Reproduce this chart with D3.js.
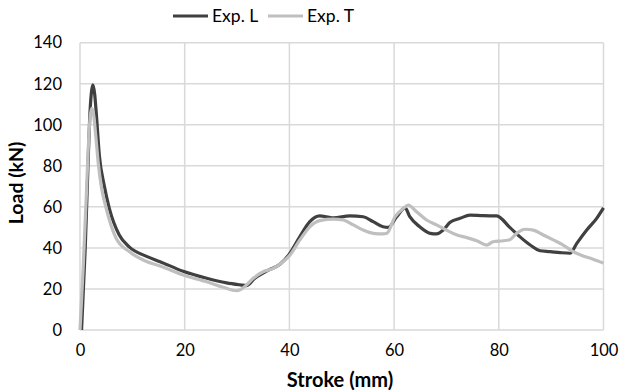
<!DOCTYPE html>
<html><head><meta charset="utf-8">
<script src="https://cdn.jsdelivr.net/npm/d3@7"></script>
<style>body{margin:0;background:#fff}svg{display:block}text{font-family:Lato,"Open Sans",sans-serif}</style>
</head><body><svg id="c" width="619" height="392"></svg>
<script>
const seriesNames = ["Exp. L", "Exp. T"];
const xTicks = [0, 20, 40, 60, 80, 100];
const yTicks = [0, 20, 40, 60, 80, 100, 120, 140];
const expL = [[0.3,0],[1.0,40],[1.5,78],[1.85,103],[2.15,115],[2.45,119.4],[2.8,115],[3.1,106],[3.7,85],[4.6,70.7],[5.6,59.3],[7.5,46.3],[9.4,40.5],[12.6,36],[15.3,33.3],[19.7,28.6],[24.2,25.2],[28,23],[30.6,22],[31.8,21.6],[33.4,25.2],[36,29.2],[38.2,32],[40.1,37.4],[42,45.5],[43.9,52.8],[45.8,55.6],[47.1,55.2],[48.4,54.6],[51.6,55.6],[54.1,55.2],[56,52.8],[57.9,50.3],[58.9,50],[60.5,55.2],[62.1,59.5],[63,55.2],[64.9,50.3],[66.9,47.1],[68.1,46.8],[69.4,48.7],[70.7,52.5],[72.6,54.4],[74.5,56],[77,55.7],[79.6,55.6],[82.1,50],[84,45.5],[86,41.4],[87.9,38.6],[89.8,38.2],[91.7,37.7],[93.6,37.4],[94.9,42.2],[96.8,48.7],[98.7,54.4],[100,59.5]];
const expT = [[0,0],[0.6,30],[1.2,65],[1.6,90],[1.95,104],[2.25,108],[2.6,105],[3.0,95],[3.5,81],[4.1,69.5],[5.0,59.3],[6.9,44.7],[9.4,38.2],[12.6,33.5],[15.3,31.2],[19.7,26.8],[24.2,23.5],[27.4,20.8],[29.9,19.2],[30.6,19.6],[31.8,21.9],[33.1,25.2],[35,28.4],[36.9,30],[38.8,33.3],[40.1,36.5],[42,43.9],[43.9,50.3],[45.8,53.3],[48.4,54],[50.3,53.6],[52.2,51.2],[54.1,48.7],[56,47.1],[57.9,46.8],[58.6,47.1],[60.2,55.2],[61.8,59.3],[62.7,60.9],[64.3,57.6],[66.2,53.6],[68.1,51.2],[70,48.7],[72,46.3],[73.9,45],[75.8,43.5],[77.7,41.4],[78.9,43],[80.9,43.5],[82.1,44],[83.4,47.1],[85,49.1],[86.6,48.7],[88.5,46.3],[90.4,43.9],[92.3,41.4],[94.2,38.2],[96.1,36.1],[98,34.5],[100,32.6]];
const colors = ["#404040", "#bfbfbf"];

const svg = d3.select("#c");
const m = {l:80, r:603.5, t:42.7, b:330};
const x = d3.scaleLinear().domain([0,100]).range([m.l, m.r]);
const y = d3.scaleLinear().domain([0,140]).range([m.b, m.t]);

svg.append("g").selectAll("line").data(yTicks).join("line")
  .attr("x1", m.l).attr("x2", m.r).attr("y1", d=>y(d)).attr("y2", d=>y(d))
  .attr("stroke", "#d9d9d9").attr("stroke-width", 1.5);
svg.append("g").selectAll("line").data(xTicks).join("line")
  .attr("y1", m.t).attr("y2", m.b).attr("x1", d=>x(d)).attr("x2", d=>x(d))
  .attr("stroke", "#d9d9d9").attr("stroke-width", 1.5);

const xa = svg.append("g").attr("transform", `translate(0,${m.b})`)
  .call(d3.axisBottom(x).tickValues(xTicks).tickSize(0).tickPadding(14));
const ya = svg.append("g").attr("transform", `translate(${m.l},0)`)
  .call(d3.axisLeft(y).tickValues(yTicks).tickSize(0).tickPadding(18));
[xa, ya].forEach(a => {
  a.select(".domain").remove();
  a.selectAll("text").attr("font-family", "Lato, sans-serif").attr("font-size", 16.5).attr("fill", "#000");
});

const line = d3.line().x(d=>x(d[0])).y(d=>y(d[1])).curve(d3.curveMonotoneX);
[expL, expT].forEach((s,i) => {
  svg.append("path").datum(s).attr("d", line).attr("fill", "none")
    .attr("stroke", colors[i]).attr("stroke-width", 3.2).attr("stroke-linejoin", "round");
});

svg.append("text").attr("x", 340).attr("y", 387).attr("text-anchor", "middle")
  .attr("font-size", 20).attr("font-weight", "bold").text("Stroke (mm)");
svg.append("text").attr("transform", "translate(23,183) rotate(-90)").attr("text-anchor", "middle")
  .attr("font-size", 19.5).attr("font-weight", "bold").text("Load (kN)");

const lg = svg.append("g");
const legX = [173, 268];
seriesNames.forEach((n,i) => {
  lg.append("line").attr("x1", legX[i]).attr("x2", legX[i]+35).attr("y1", 16).attr("y2", 16)
    .attr("stroke", colors[i]).attr("stroke-width", 3);
  lg.append("text").attr("x", legX[i]+39).attr("y", 22).attr("font-size", 17.5).text(n);
});
</script></body></html>
